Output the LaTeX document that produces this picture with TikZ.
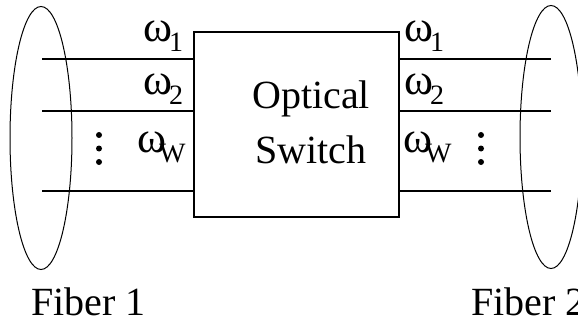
\documentclass[tikz,border=0pt]{standalone}
\usepackage{fontspec}
\setmainfont{Liberation Serif}
\usepackage{tikz}
\usetikzlibrary{calc,shapes.geometric}

\newcommand{\wlab}[2][3pt]{ω\kern-#1\raisebox{-10pt}{\fontsize{28}{30}\selectfont #2}}

\begin{document}
\begin{tikzpicture}[x=1pt,y=-1pt]
	\tikzstyle{fiber}=[draw, ellipse, line width=1pt, inner sep=0pt, minimum width=62pt, minimum height=263pt]
	\tikzstyle{chan}=[line width=2pt]
	\tikzstyle{wl}=[anchor=base west, inner sep=0pt, font=\fontsize{44}{46}\selectfont]
	\tikzstyle{big}=[anchor=base, inner sep=0pt, font=\fontsize{40}{42}\selectfont]

	\useasboundingbox (0,0) rectangle (578,326);

	\node (sw) [draw, line width=2pt, minimum width=205pt, minimum height=185pt, inner sep=0pt] at (296.5,124.5) {};
	\node (opt) [big] at (311,109) {Optical};
	\node (swt) [big] at (311,163) {Switch};

	\node (fib1) [fiber] at (41,138) {};
	\node (fib2) [fiber] at (551,137) {};

	% channels on both sides
	\foreach \n/\y in {1/59, 2/111, 3/191} {
		\coordinate (l\n) at (42,\y);
		\coordinate (r\n) at (551,\y);
		\draw [chan] (l\n) -- (l\n -| sw.west);
		\draw [chan] (sw.east |- r\n) -- (r\n);
	}

	\node (lw1) [wl] at (143,42) {\wlab{1}};
	\node (lw2) [wl] at (143,95) {\wlab{2}};
	\node (lww) [wl] at (137,152) {\wlab[7pt]{W}};
	\node (rw1) [wl] at (404,42) {\wlab{1}};
	\node (rw2) [wl] at (404,95) {\wlab{2}};
	\node (rww) [wl] at (403,152) {\wlab[7pt]{W}};

	\foreach \y in {135,148.5,162} {
		\fill (99,\y) circle (3pt);
		\fill (481,\y) circle (3pt);
	}

	\node (f1) [big, anchor=base west] at (31,315) {Fiber 1};
	\node (f2) [big, anchor=base west] at (471,315) {Fiber 2};
\end{tikzpicture}
\end{document}
